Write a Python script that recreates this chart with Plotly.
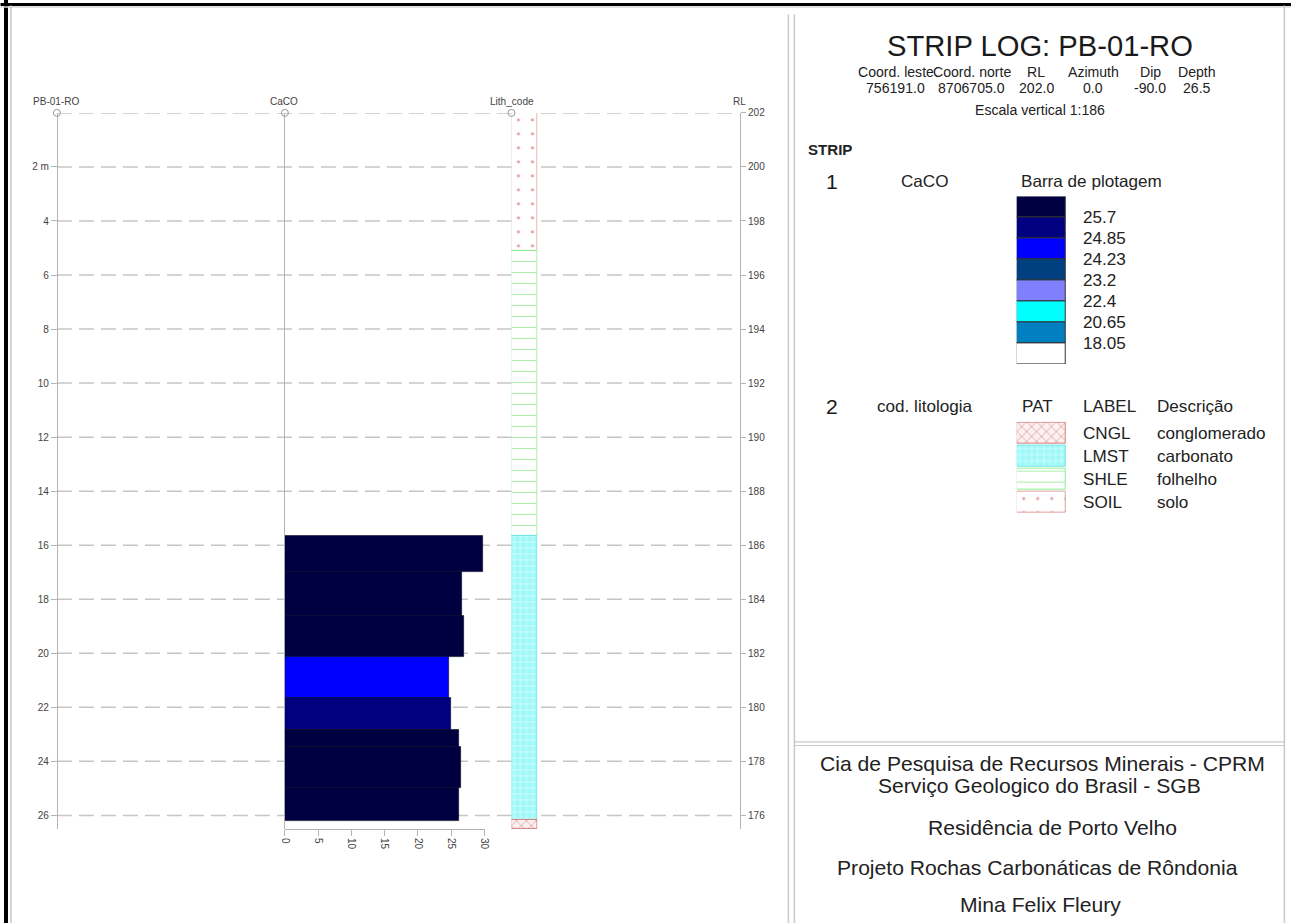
import plotly.graph_objects as go

W, H = 1291, 923
# observed render mapping: screen = S * page + (OX, OY); positions below are screen pixels
S, OX, OY = 0.9935, 4.5, 5.5


def px(x):
    return ((x - OX) / S) / W


def py(y):
    return 1 - ((y - OY) / S) / H


def fs(size):
    return size / S


FONT = "Liberation Sans, Arial, sans-serif"

# ---------------- data ----------------
well_name = "PB-01-RO"
rl_top = 202.0
total_depth = 26.5
depth_ticks = [2, 4, 6, 8, 10, 12, 14, 16, 18, 20, 22, 24, 26]
depth_ticktext = ["2 m"] + [str(d) for d in depth_ticks[1:]]
grid_depths = [0, 2, 4, 6, 8, 10, 12, 14, 16, 18, 20, 22, 24, 26]
rl_ticks = [176, 178, 180, 182, 184, 186, 188, 190, 192, 194, 196, 198, 200, 202]

caco_from = [15.65, 17.0, 18.6, 20.15, 21.65, 22.85, 23.45, 25.0]
caco_to = [17.0, 18.6, 20.15, 21.65, 22.85, 23.45, 25.0, 26.2]
caco_val = [29.7, 26.6, 26.9, 24.6, 25.0, 26.1, 26.4, 26.1]
caco_ticks = [0, 5, 10, 15, 20, 25, 30]

class_breaks = [25.7, 24.85, 24.23, 23.2, 22.4, 20.65, 18.05]
class_colors = ["#000040", "#000080", "#0000ff", "#004080",
                "#8080ff", "#00ffff", "#0080c0", "#ffffff"]

lith_from = [0.0, 5.1, 15.67, 26.17]
lith_to = [5.1, 15.67, 26.17, 26.5]
lith_code = ["SOIL", "SHLE", "LMST", "CNGL"]

legend_codes = ["CNGL", "LMST", "SHLE", "SOIL"]
legend_desc = ["conglomerado", "carbonato", "folhelho", "solo"]

header_labels = ["Coord. leste", "Coord. norte", "RL", "Azimuth", "Dip", "Depth"]
header_values = ["756191.0", "8706705.0", "202.0", "0.0", "-90.0", "26.5"]

footer_lines = ["Cia de Pesquisa de Recursos Minerais - CPRM",
                "Serviço Geologico do Brasil - SGB",
                "Residência de Porto Velho",
                "Projeto Rochas Carbonáticas de Rôndonia",
                "Mina Felix Fleury"]

# ---------------- styles ----------------
lith_style = {
    "CNGL": dict(shape="x", fg="#d47878", bg="#fcf0f0", line="#d08080", size=7, sol=0.15),
    "LMST": dict(shape="+", fg="#dcffff", bg="#9ef8f8", line="#70e4e8", size=6, sol=0.22),
    "SHLE": dict(shape="-", fg="#a6eea6", bg="#ffffff", line="#8cf08c", size=11, sol=0.09),
    "SOIL": dict(shape=".", fg="#e69696", bg="#ffffff", line="#e0a0a0", size=14, sol=0.035),
}


def class_color(v):
    idx = sum(1 for b in class_breaks if b > v)
    return class_colors[idx]


AX_GRAY = "#b4b4b4"
TXT_GRAY = "#444444"

fig = go.Figure()

# CaCO bars
fig.add_trace(go.Bar(
    orientation="h",
    x=caco_val,
    y=[(a + b) / 2 for a, b in zip(caco_from, caco_to)],
    width=[b - a for a, b in zip(caco_from, caco_to)],
    base=0,
    marker=dict(color=[class_color(v) for v in caco_val],
                line=dict(color="#000020", width=0.6)),
    xaxis="x", yaxis="y", hoverinfo="skip", showlegend=False,
))


def lith_marker(codes):
    # scalar marker.color so the explicit per-point pattern colours are used
    return dict(
        color="#ffffff",
        line=dict(color=[lith_style[c]["line"] for c in codes], width=1),
        pattern=dict(
            shape=[lith_style[c]["shape"] for c in codes],
            fgcolor=[lith_style[c]["fg"] for c in codes],
            bgcolor=[lith_style[c]["bg"] for c in codes],
            size=[lith_style[c]["size"] for c in codes],
            solidity=[lith_style[c]["sol"] for c in codes],
            fillmode="replace",
        ),
    )


# Lithology column
fig.add_trace(go.Bar(
    orientation="h",
    x=[1] * len(lith_code),
    y=[(a + b) / 2 for a, b in zip(lith_from, lith_to)],
    width=[b - a for a, b in zip(lith_from, lith_to)],
    base=0,
    marker=lith_marker(lith_code),
    xaxis="x2", yaxis="y", hoverinfo="skip", showlegend=False,
))

# RL axis helper trace (invisible)
fig.add_trace(go.Scatter(
    x=[0, 0], y=[rl_top, rl_top - total_depth], mode="markers",
    marker=dict(opacity=0), xaxis="x", yaxis="y2",
    hoverinfo="skip", showlegend=False,
))

# Column top circles
circ = dict(symbol="circle-open", size=7, color="#9a9a9a", line=dict(width=1, color="#9a9a9a"))
for xa in ["x", "x2", "x3"]:
    fig.add_trace(go.Scatter(
        x=[0], y=[0], mode="markers", marker=circ, cliponaxis=False,
        xaxis=xa, yaxis="y", hoverinfo="skip", showlegend=False,
    ))

# Colour-class legend boxes
fig.add_trace(go.Bar(
    orientation="h",
    x=[1] * len(class_colors),
    y=[i + 0.5 for i in range(len(class_colors))],
    width=1, base=0,
    marker=dict(color=class_colors, line=dict(color="#333333", width=1)),
    xaxis="x5", yaxis="y5", hoverinfo="skip", showlegend=False,
))

# Lithology legend boxes
fig.add_trace(go.Bar(
    orientation="h",
    x=[1] * len(legend_codes),
    y=list(range(len(legend_codes))),
    width=0.93, base=0,
    marker=lith_marker(legend_codes),
    xaxis="x4", yaxis="y4", hoverinfo="skip", showlegend=False,
))

# ---------------- shapes ----------------
shapes = []
for d in grid_depths:
    shapes.append(dict(type="line", xref="paper", yref="y",
                       x0=px(56.5), x1=px(733), y0=d, y1=d,
                       line=dict(color="#c6c6c6", width=1.5, dash="15px,7px"),
                       layer="below"))


def pline(x0, y0, x1, y1, color, width):
    return dict(type="line", xref="paper", yref="paper",
                x0=px(x0), x1=px(x1), y0=py(y0), y1=py(y1),
                line=dict(color=color, width=width), layer="below")


# outer frame
shapes += [
    pline(0, 5.0, W + 10, 5.0, "#000000", 3),
    pline(5.5, 0, 5.5, H + 10, "#000000", 4),
    pline(0, 7.5, W + 10, 7.5, "#d8d8d8", 1.5),
    pline(10.5, 6, 10.5, H + 10, "#c8c8c8", 1.5),
    pline(789.5, 15, 789.5, H + 10, "#c8c8c8", 1.5),
    pline(795.5, 15, 795.5, H + 10, "#c8c8c8", 1.5),
    pline(1286.5, 6, 1286.5, H + 10, "#c8c8c8", 1.5),
    pline(795.5, 741.5, 1286.5, 741.5, "#c8c8c8", 1.2),
    pline(795.5, 745.2, 1286.5, 745.2, "#c8c8c8", 1.2),
]

# ---------------- annotations ----------------
ann = []


def txt(x, y, s, size, color="#1a1a1a", xanchor="center", bold=False):
    ann.append(dict(xref="paper", yref="paper", x=px(x), y=py(y),
                    text=("<b>%s</b>" % s) if bold else s,
                    showarrow=False, xanchor=xanchor, yanchor="middle",
                    font=dict(family=FONT, size=fs(size), color=color)))


# column headers
txt(56, 101.7, well_name, 10, TXT_GRAY)
txt(284.5, 101.7, "CaCO", 10, TXT_GRAY)
txt(513, 101.7, "Lith_code", 10, TXT_GRAY)
txt(740, 101.7, "RL", 10, TXT_GRAY)

# right panel header
txt(1041.5, 46.7, "STRIP LOG: " + well_name, 29)
header_x = [897, 973, 1038, 1095, 1152, 1199]
for hx, lab, val in zip(header_x, header_labels, header_values):
    txt(hx, 72.7, lab, 14, "#222222")
    txt(hx, 88.3, val, 14, "#222222")
txt(1041.5, 110, "Escala vertical 1:186", 14, "#222222")

txt(806.7, 150, "STRIP", 15, "#222222", xanchor="left", bold=True)
txt(833, 181.5, "1", 21)
txt(900, 181.5, "CaCO", 17, "#222222", xanchor="left")
txt(1021, 182, "Barra de plotagem", 17, "#222222", xanchor="left")

for i, b in enumerate(class_breaks):
    ann.append(dict(xref="paper", yref="y5", x=px(1082.5), y=i + 1,
                    text=str(b), showarrow=False, xanchor="left", yanchor="middle",
                    font=dict(family=FONT, size=fs(17), color="#222222")))

txt(833, 406.7, "2", 21)
txt(876, 406.5, "cod. litologia", 17, "#222222", xanchor="left")
txt(1021.5, 406.5, "PAT", 17, "#222222", xanchor="left")
txt(1083, 406.5, "LABEL", 17, "#222222", xanchor="left")
txt(1156.5, 406.5, "Descrição", 17, "#222222", xanchor="left")
for i, (code, desc) in enumerate(zip(legend_codes, legend_desc)):
    for xx, s in [(1083, code), (1156.5, desc)]:
        ann.append(dict(xref="paper", yref="y4", x=px(xx), y=i,
                        text=s, showarrow=False, xanchor="left", yanchor="middle",
                        font=dict(family=FONT, size=fs(17), color="#222222")))

footer_xy = [(1044, 763), (1041, 785.5), (1054, 827.5), (1039.5, 867), (1042, 904)]
for (fx, fy), s in zip(footer_xy, footer_lines):
    txt(fx, fy, s, 21, "#222222")

# ---------------- layout ----------------
ydom = [py(828.5), py(113.3)]
tickfont = dict(size=fs(10), color=TXT_GRAY, family=FONT)
fig.update_layout(
    width=W, height=H, autosize=False,
    margin=dict(l=0, r=0, t=0, b=0, pad=0),
    paper_bgcolor="white", plot_bgcolor="rgba(0,0,0,0)",
    barmode="overlay", bargap=0, showlegend=False, hovermode=False,
    font=dict(family=FONT),
    xaxis=dict(domain=[px(285), px(485)], range=[0, 30], anchor="y",
               showline=True, linecolor=AX_GRAY, linewidth=1,
               ticks="outside", ticklen=6, tickcolor=AX_GRAY,
               tickvals=caco_ticks, tickangle=90, tickfont=tickfont,
               showgrid=False, zeroline=True, zerolinecolor=AX_GRAY, zerolinewidth=1,
               fixedrange=True),
    xaxis2=dict(domain=[px(512), px(538)], range=[0, 1], anchor="y", visible=False,
                fixedrange=True),
    xaxis3=dict(domain=[px(55.5), px(57.5)], range=[-1, 1], anchor="y", visible=False,
                fixedrange=True),
    xaxis4=dict(domain=[px(1018.3), px(1067.7)], range=[0, 1], anchor="y4", visible=False,
                fixedrange=True),
    xaxis5=dict(domain=[px(1018.3), px(1067.7)], range=[0, 1], anchor="y5", visible=False,
                fixedrange=True),
    yaxis=dict(domain=ydom, range=[total_depth, 0], anchor="free", position=px(56.5),
               side="left", showline=True, linecolor=AX_GRAY, linewidth=1,
               ticks="outside", ticklen=6, tickcolor=AX_GRAY,
               tickvals=depth_ticks, ticktext=depth_ticktext, tickfont=tickfont,
               showgrid=False, zeroline=False, fixedrange=True),
    yaxis2=dict(domain=ydom, overlaying="y", anchor="free", position=px(741), side="right",
                range=[rl_top - total_depth, rl_top], showline=True, linecolor=AX_GRAY,
                linewidth=1, ticks="outside", ticklen=5, tickcolor=AX_GRAY,
                tickvals=rl_ticks, tickfont=tickfont,
                showgrid=False, zeroline=False, fixedrange=True),
    yaxis4=dict(domain=[py(513.5), py(421.7)], range=[3.5, -0.5], anchor="x4",
                visible=False, fixedrange=True),
    yaxis5=dict(domain=[py(364.2), py(196.7)], range=[8, 0], anchor="x5",
                visible=False, fixedrange=True),
    shapes=shapes,
    annotations=ann,
)

fig.write_html(
    "out.html",
    config={"displayModeBar": False},
    post_script=(
        "document.documentElement.style.margin='0';"
        "document.documentElement.style.overflow='hidden';"
        "document.body.style.margin='0';"
        "document.body.style.overflow='hidden';"
    ),
)
